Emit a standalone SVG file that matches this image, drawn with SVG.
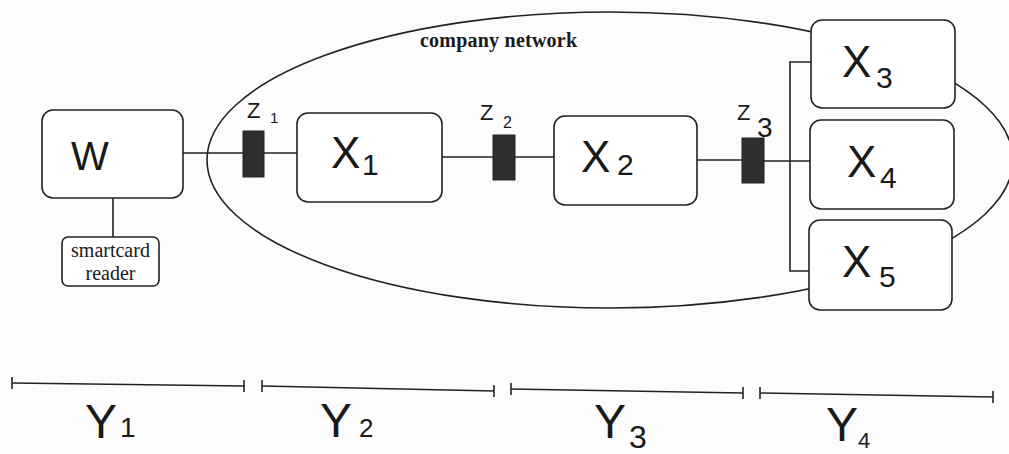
<svg xmlns="http://www.w3.org/2000/svg" width="1009" height="454" viewBox="0 0 1009 454">
<style>
.box{fill:#fff;stroke:#222;stroke-width:1.6}
.sw{fill:#2e2e2e;stroke:#222;stroke-width:1}
.ln{stroke:#222;stroke-width:1.6;fill:none}
.hw{font-family:"Liberation Sans",Arial,sans-serif;fill:#1a1a1a}
.big{font-size:44px}
.sub{font-size:30px}
.ser{font-family:"Liberation Serif","Times New Roman",serif;fill:#1a1a1a}
</style>
<rect width="1009" height="454" fill="#fcfcfc"/>
<g id="network">
<ellipse cx="610" cy="160" rx="403" ry="148" class="ln"/>
<text class="ser" x="420" y="47" font-size="20" font-weight="bold" textLength="157">company network</text>
</g>
<g id="connectors">
<line class="ln" x1="183" y1="153" x2="243" y2="153"/>
<line class="ln" x1="113" y1="198" x2="113" y2="237"/>
<line class="ln" x1="264" y1="153" x2="297" y2="153"/>
<line class="ln" x1="442" y1="157" x2="493" y2="157"/>
<line class="ln" x1="515" y1="157" x2="554" y2="157"/>
<line class="ln" x1="697" y1="160" x2="742" y2="160"/>
<line class="ln" x1="764" y1="161" x2="811" y2="161"/>
<polyline class="ln" points="812,62 790,62 790,271 810,271"/>
</g>
<g id="W">
<rect class="box" x="42" y="110" width="141" height="88" rx="11"/>
<text class="hw" x="71" y="170" font-size="40">W</text>
</g>
<g id="smartcard">
<rect class="box" x="62" y="237" width="97" height="49" rx="6"/>
<text class="ser" x="110.5" y="257" font-size="20" text-anchor="middle">smartcard</text>
<text class="ser" x="110.5" y="280" font-size="20" text-anchor="middle">reader</text>
</g>
<g id="Z1">
<rect class="sw" x="243" y="131" width="21" height="46"/>
<text class="hw" x="247" y="118" font-size="22">Z</text>
<text class="hw" x="270" y="123" font-size="15">1</text>
</g>
<g id="X1">
<rect class="box" x="297" y="113" width="145" height="89" rx="11"/>
<text class="hw big" x="331" y="168">X</text>
<text class="hw sub" x="362" y="175">1</text>
</g>
<g id="Z2">
<rect class="sw" x="493" y="135" width="22" height="45"/>
<text class="hw" x="480" y="120" font-size="22">Z</text>
<text class="hw" x="503" y="128" font-size="16">2</text>
</g>
<g id="X2">
<rect class="box" x="554" y="116" width="143" height="89" rx="11"/>
<text class="hw big" x="581" y="172">X</text>
<text class="hw sub" x="617" y="175">2</text>
</g>
<g id="Z3">
<rect class="sw" x="742" y="138" width="22" height="45"/>
<text class="hw" x="737" y="120" font-size="22">Z</text>
<text class="hw" x="757" y="137" font-size="28">3</text>
</g>
<g id="X3">
<rect class="box" x="811" y="20" width="144" height="88" rx="11"/>
<text class="hw big" x="842" y="77">X</text>
<text class="hw sub" x="876" y="88">3</text>
</g>
<g id="X4">
<rect class="box" x="810" y="120" width="144" height="89" rx="11"/>
<text class="hw big" x="847" y="177">X</text>
<text class="hw sub" x="880" y="188">4</text>
</g>
<g id="X5">
<rect class="box" x="809" y="220" width="143" height="90" rx="11"/>
<text class="hw big" x="842" y="277">X</text>
<text class="hw sub" x="879" y="287">5</text>
</g>
<g id="scale">
<line class="ln" x1="12" y1="383" x2="244" y2="386"/>
<line class="ln" x1="12" y1="377" x2="12" y2="389"/>
<line class="ln" x1="244" y1="380" x2="244" y2="392"/>
<line class="ln" x1="262" y1="386" x2="494" y2="391"/>
<line class="ln" x1="262" y1="380" x2="262" y2="392"/>
<line class="ln" x1="494" y1="385" x2="494" y2="397"/>
<line class="ln" x1="511" y1="389" x2="743" y2="393"/>
<line class="ln" x1="511" y1="383" x2="511" y2="395"/>
<line class="ln" x1="743" y1="387" x2="743" y2="399"/>
<line class="ln" x1="760" y1="393" x2="993" y2="397"/>
<line class="ln" x1="760" y1="387" x2="760" y2="399"/>
<line class="ln" x1="993" y1="391" x2="993" y2="403"/>
<text class="hw" x="85" y="438" font-size="48">Y</text>
<text class="hw" x="120" y="437" font-size="28">1</text>
<text class="hw" x="320" y="437" font-size="48">Y</text>
<text class="hw" x="359" y="437" font-size="26">2</text>
<text class="hw" x="594" y="438" font-size="48">Y</text>
<text class="hw" x="629" y="448" font-size="32">3</text>
<text class="hw" x="826" y="441" font-size="48">Y</text>
<text class="hw" x="858" y="448" font-size="22">4</text>
</g>
</svg>
